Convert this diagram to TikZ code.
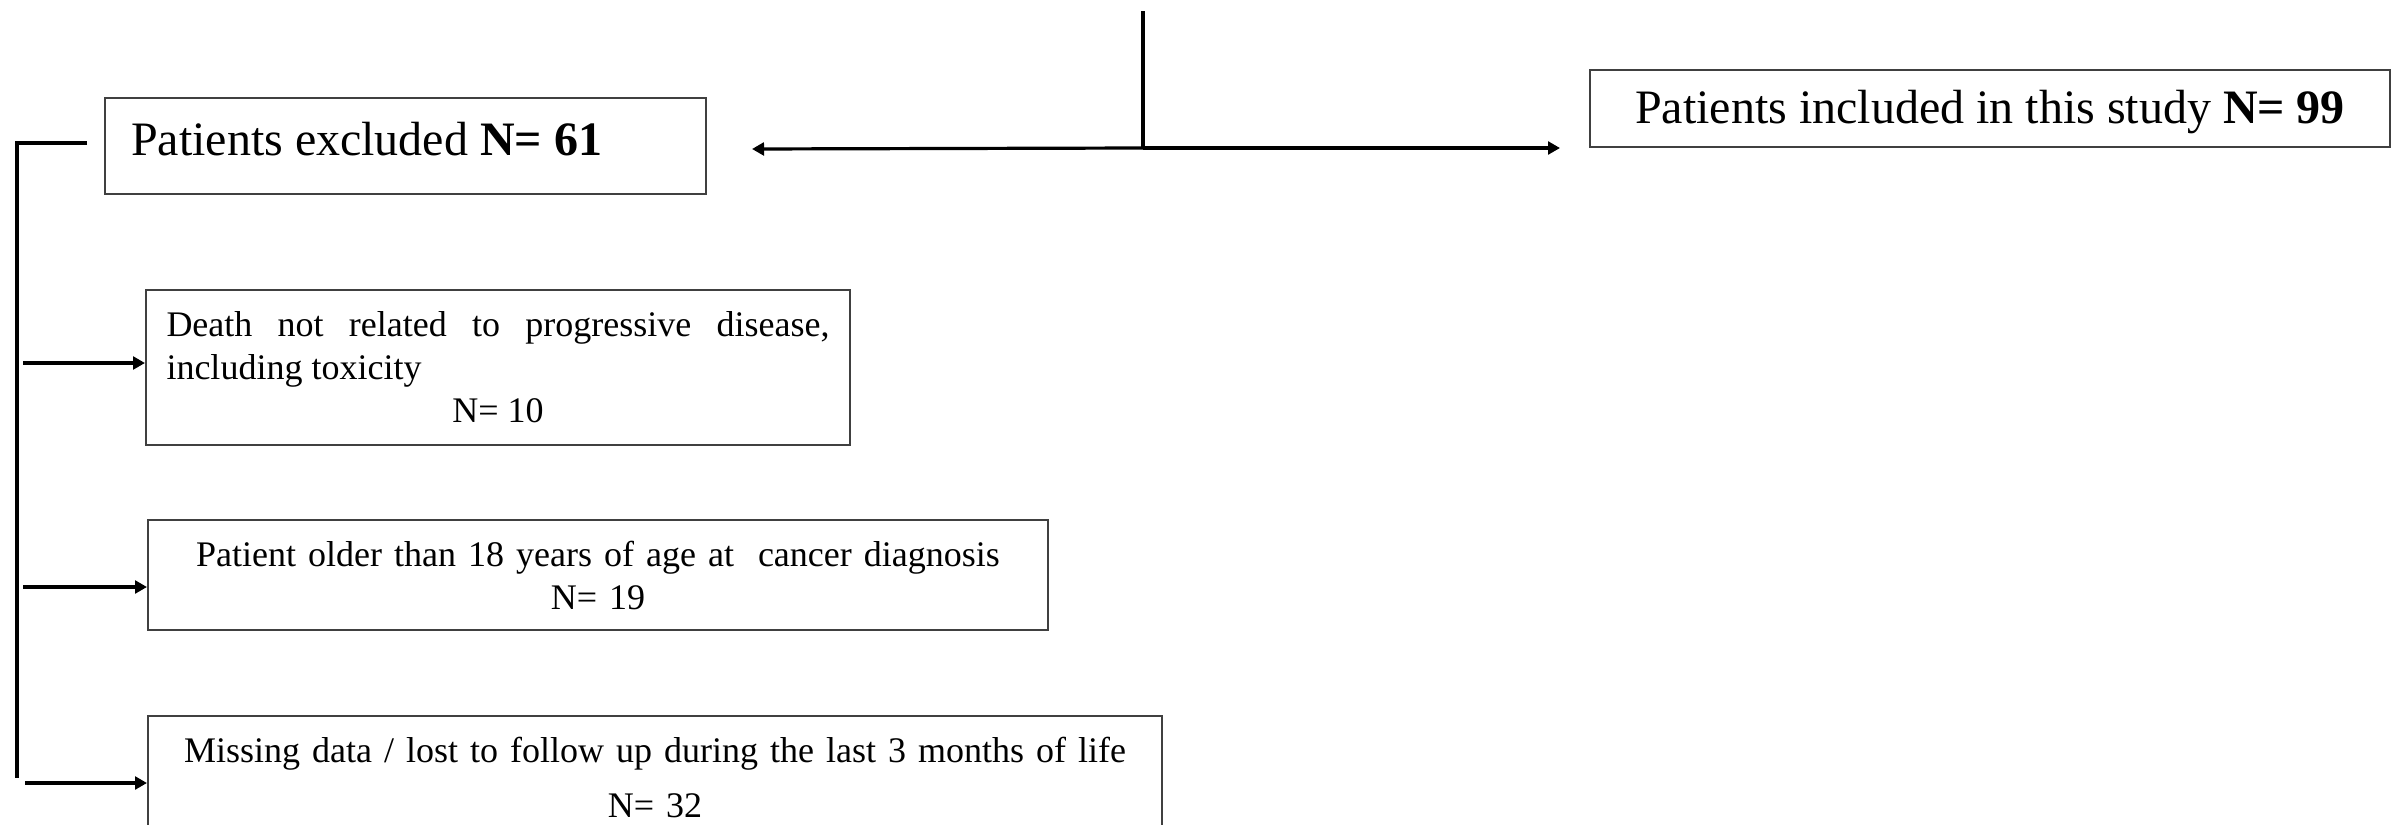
\documentclass[tikz,border=0pt]{standalone}
\usepackage{fontspec}
\setmainfont{Liberation Serif}
\usetikzlibrary{arrows.meta}

\tikzset{
  box/.style={draw=black!75, line width=0.5pt, fill=white, inner ysep=0pt},
  arr/.style={-{Triangle[length=3pt,width=3.2pt]}, line width=0.8pt},
  big/.style={font=\fontsize{12}{14.4}\selectfont},
  small/.style={font=\fontsize{9}{10.75}\selectfont}
}

\begin{document}
\begin{tikzpicture}[x=0.25pt,y=-0.25pt]
        \useasboundingbox (0,0) rectangle (2395,824);

        \node [box,big,text width=137.25pt,inner xsep=6.5pt,align=flush left,minimum height=24pt,text height=8.3pt,text depth=3.8pt] (excl) at (405.5,146) {Patients excluded \textbf{N= 61}};
        \node [box,big,minimum width=200pt,minimum height=19.25pt,inner xsep=0pt,text height=8.3pt,text depth=1pt] (incl) at (1990,108.5) {Patients included in this study \textbf{N= 99}};

        \node [box,small,text width=165.75pt,inner xsep=5.125pt,align=justify,minimum height=38.75pt] (dth) at (498,367.5) {\hyphenpenalty=10000 \tolerance=10000 Death not related to progressive disease, including toxicity\par\centering N= 10\par};
        \node [box,small,text width=215pt,inner xsep=5pt,align=center,minimum height=27.5pt] (age) at (598,575) {Patient older than 18 years of age at~ cancer diagnosis\\N= 19};
        \node [box,font=\fontsize{9}{13.75}\selectfont,text width=243.5pt,inner xsep=5pt,align=center,minimum height=30.5pt] (miss) at (655,777) {Missing data / lost to follow up during the last 3 months of life\\N= 32};

        % split above the two branches
        \coordinate (top) at (1143,11);
        \coordinate (split) at (1143,148);
        \coordinate (lt) at (752,149);
        \coordinate (rt) at (1560,148);
        \draw [line width=0.8pt] (top) -- (split);
        \draw [arr] (split) -- (lt);
        \draw [arr] (split) -- (rt);

        % bracket on the left
        \coordinate (bk) at (87,143);
        \coordinate (rtop) at (17,143);
        \coordinate (rbot) at (17,778);
        \draw [line width=0.8pt] (bk) -- (rtop) -- (rbot);
        \coordinate (a1) at (23,363);
        \coordinate (a2) at (23,587);
        \coordinate (a3) at (25,783);
        \draw [arr] (a1) -- (a1 -| dth.west);
        \draw [arr] (a2) -- (a2 -| age.west);
        \draw [arr] (a3) -- (a3 -| miss.west);
    \end{tikzpicture}
\end{document}
